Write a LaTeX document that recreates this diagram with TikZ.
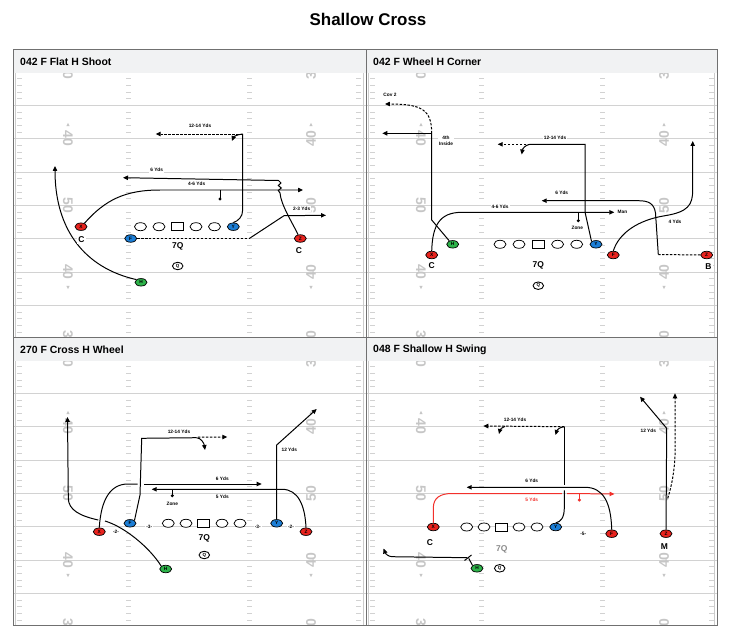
\documentclass[tikz,border=0pt]{standalone}
\usepackage{fontspec}
\setmainfont{Liberation Sans}
\usetikzlibrary{shapes.geometric,arrows.meta}
\definecolor{pred}{HTML}{E8231E}
\definecolor{pblue}{HTML}{1C7ED6}
\definecolor{pgreen}{HTML}{2DB34A}
\definecolor{headfill}{HTML}{F1F2F3}
\definecolor{framecol}{HTML}{707070}
\definecolor{numgray}{HTML}{C6C6C6}
\definecolor{linegray}{HTML}{D2D2D2}
\definecolor{rred}{HTML}{F2302B}
\definecolor{qgray}{HTML}{8A8A8A}
\tikzset{
 fieldline/.style={linegray, line width=0.9pt},
 hashmark/.style={linegray, line width=0.6pt},
 sideline/.style={gray!40, line width=1.8pt},
 fieldnum/.style={numgray, font=\fontsize{14}{14}\selectfont\bfseries, inner sep=0pt},
 paneltitle/.style={anchor=west, font=\fontsize{10.5}{12}\selectfont\bfseries, inner sep=0pt},
 player/.style={ellipse, draw=black, line width=0.7pt, minimum width=12bp, minimum height=7.5bp, inner sep=0pt, font=\fontsize{4.8}{4.8}\selectfont\bfseries},
 lineman/.style={ellipse, draw=black, fill=white, line width=0.75pt, minimum width=12bp, minimum height=8bp, inner sep=0pt},
 cbox/.style={rectangle, draw=black, fill=white, line width=0.75pt, minimum width=11.5bp, minimum height=8bp, inner sep=0pt},
 qb/.style={ellipse, draw=black, fill=white, line width=0.9pt, minimum width=10.5bp, minimum height=7.5bp, inner sep=0pt, font=\fontsize{4.5}{4.5}\selectfont\bfseries},
 rline/.style={line width=1pt},
 route/.style={line width=1pt, -{Triangle[length=5pt,width=4.4pt]}},
 dsh/.style={dash pattern=on 2.5pt off 1.5pt},
 lbl/.style={fill=white, inner sep=1pt, font=\fontsize{4.8}{5.8}\selectfont\bfseries},
 posl/.style={fill=white, inner sep=1.2pt, font=\fontsize{8.5}{9}\selectfont\bfseries},
}
\newcommand\fieldpanel[5]{%
\begin{scope}[shift={(#2,#3)}]
 \fill[white] (0,0) rectangle (#4,288);
 \begin{scope}
  \clip (0,24) rectangle (#4,288);
  \foreach \m in {1,...,7} {\draw[fieldline] (0,23+33.3333*\m) -- (#4,23+33.3333*\m);}
  \foreach \k in {1,...,39} {%
   \pgfmathtruncatemacro\rr{mod(\k,5)}%
   \ifnum\rr>0
    \foreach \hx in {4,113,234,343} {\draw[hashmark] (\hx,23+6.66667*\k) -- ++(5,0);}
   \fi}
  \foreach \yy/\tx/\k in {23/30/a,89.667/40/b,156.333/50/c,223/40/d,289.667/30/e} {%
   \node[fieldnum,rotate=-90] (#1L\k) at (55,\yy) {\tx};
   \node[fieldnum,rotate=90] (#1R\k) at (298,\yy) {\tx};}
  \foreach \xx in {55,298} {%
   \fill[numgray] (\xx-1.6,77.2) -- (\xx+1.6,77.2) -- (\xx,73.8) -- cycle;
   \fill[numgray] (\xx-1.6,236.8) -- (\xx+1.6,236.8) -- (\xx,240.2) -- cycle;}
 \end{scope}
 \draw[sideline] (2.5,24) -- (2.5,288);
 \draw[sideline] (#4-2.5,24) -- (#4-2.5,288);
 \fill[headfill] (0,0) rectangle (#4,24);
 \node[paneltitle] (#1title) at (7,12.5) {#5};
 \draw[framecol, line width=0.9pt] (0,0) rectangle (#4,288);
\end{scope}}
\begin{document}
\begin{tikzpicture}[x=1bp,y=-1bp]
\useasboundingbox (0,0) rectangle (736,633);
\fill[white] (0,0) rectangle (736,633);
\node[font=\fontsize{17}{20}\selectfont\bfseries] (title) at (368,19.5) {Shallow Cross};

\fieldpanel{p1}{13}{49}{353}{042 F Flat H Shoot}
\fieldpanel{p2}{366}{49}{351}{042 F Wheel H Corner}
\fieldpanel{p3}{13}{337}{353}{270 F Cross H Wheel}
\fieldpanel{p4}{366}{337}{351}{048 F Shallow H Swing}

% ---------------- Panel 1 ----------------
\node[lineman] (a1) at (140.5,226.7) {};
\node[lineman] (a2) at (159,226.7) {};
\node[cbox] (a3) at (177.5,226.7) {};
\node[lineman] (a4) at (196,226.7) {};
\node[lineman] (a5) at (214.5,226.7) {};
\node[player,fill=pblue] (aY) at (233.3,226.7) {Y};
\node[player,fill=pred] (aX) at (81,226.7) {X};
\node[player,fill=pblue] (aF) at (130.7,238.5) {F};
\node[player,fill=pred] (aZ) at (300.3,238.5) {Z};
\node[posl] (aZc) at (299,251) {C};
\node[posl] (a7q) at (177.7,246.7) {7Q};
\node[qb] (aQ) at (177.7,266) {Q};
\node[player,fill=pgreen] (aH) at (141,282.3) {H};

\draw[route] (aH.150) .. controls (85,268) and (55,230) .. (55,166);
\node[posl] (aXc) at (81.5,239.5) {C};
\draw[route] (aX.45) .. controls (105,200) and (125,190) .. (160,190) -- (303,190);
\draw[rline] (220,190) -- (220,199);
\fill (220,199) circle (1.7);
\draw[route] (aZ.120) .. controls (292,222) and (281,205) .. (280,193) -- (278.3,190.5) -- (281.3,188) -- (278.3,185.5) -- (281,183) -- (278.5,180.5) -- (123,177.7);
\draw[rline] (aY.north) .. controls (238,221) and (242.7,217) .. (242.7,210) -- (242.7,134);
\draw[route,dsh] (242.7,134) -- (155.7,134);
\draw[route] (242.7,134) .. controls (237,134.5) and (233.5,137) .. (232,141);
\draw[rline,dsh] (aF.east) -- (249.3,238.5);
\draw[route] (249.3,238.5) -- (284,215.7) -- (326,215.3);
\node[lbl] (al1) at (200,126) {12-14 Yds};
\node[lbl] (al2) at (156.7,170) {6 Yds};
\node[lbl] (al3) at (196.7,184) {4-6 Yds};
\node[lbl] (al4) at (301.7,209) {2-3 Yds};

% ---------------- Panel 2 ----------------
\node[lineman] (b1) at (500,244.3) {};
\node[lineman] (b2) at (519,244.3) {};
\node[cbox] (b3) at (538.3,244.3) {};
\node[lineman] (b4) at (557.6,244.3) {};
\node[lineman] (b5) at (576.7,244.3) {};
\node[player,fill=pblue] (bY) at (596,244.3) {Y};
\node[player,fill=pgreen] (bH) at (452.7,244.3) {H};
\node[player,fill=pred] (bX) at (431.7,255) {X};
\node[posl] (bXc) at (431.7,266) {C};
\node[player,fill=pred] (bF) at (613.3,255) {F};
\node[player,fill=pred] (bZ) at (706.7,255) {Z};
\node[posl] (bZc) at (708.3,267) {B};
\node[posl] (b7q) at (538.3,265.5) {7Q};
\node[qb] (bQ) at (538.3,285.7) {Q};

\draw[rline] (bH.135) -- (431.7,220) -- (431.7,133.3);
\draw[route] (431.7,133.3) -- (382.3,133.3);
\draw[route,dsh] (431.7,133.3) .. controls (431.7,110) and (422,104) .. (385,104);
\draw[route] (bX.north) .. controls (432.5,226) and (439,212.3) .. (462,212.3) -- (614.3,212.3);
\draw[rline] (578.3,212.3) -- (578.3,220.7);
\fill (578.3,220.7) circle (1.7);
\draw[rline] (bY.north west) -- (585,212) -- (585,144.3) -- (530,144.3);
\draw[route,dsh] (530,144.3) -- (497.7,144.3);
\draw[route] (530,144.3) .. controls (525,145) and (522.5,149) .. (521.7,154.5);
\draw[rline,dsh] (bZ.west) -- (658.3,254.5);
\draw[route] (658.3,254.5) -- (655.5,213) .. controls (654,203) and (648,200.7) .. (638,200.7) -- (541.7,200.7);
\draw[route] (bF.north) .. controls (619,233) and (638,220) .. (665,215.7) .. controls (688,212) and (692.7,205) .. (692.7,190) -- (692.7,141);
\node[lbl] (bl1) at (390,95) {Cov 2};
\node[lbl,align=center] (bl2) at (446,141) {4th\\Inside};
\node[lbl] (bl3) at (555,137.7) {12-14 Yds};
\node[lbl] (bl4) at (561.7,192.7) {6 Yds};
\node[lbl] (bl5) at (500,207) {4-6 Yds};
\node[lbl,anchor=west] (bl6) at (616.5,212.3) {Man};
\node[lbl] (bl7) at (577.3,227.7) {Zone};
\node[lbl] (bl8) at (675,221.7) {4 Yds};

% ---------------- Panel 3 ----------------
\node[lineman] (c1) at (168.3,523.3) {};
\node[lineman] (c2) at (186,523.3) {};
\node[cbox] (c3) at (203.5,523.3) {};
\node[lineman] (c4) at (222,523.3) {};
\node[lineman] (c5) at (240,523.3) {};
\node[player,fill=pblue] (cF) at (130,523.3) {F};
\node[player,fill=pblue] (cY) at (276.7,523.3) {Y};
\node[player,fill=pred] (cX) at (99.3,531.7) {X};
\node[player,fill=pred] (cZ) at (306,531.7) {Z};
\node[player,fill=pgreen] (cH) at (165.7,569) {H};
\node[posl] (c7q) at (204.3,538.5) {7Q};
\node[qb] (cQ) at (204.3,555) {Q};
\node[lbl] (cg1) at (116,531.7) {-2-};
\node[lbl] (cg2) at (149.3,526.7) {-3-};
\node[lbl] (cg3) at (257.7,526.7) {-3-};
\node[lbl] (cg4) at (291,526.7) {-2-};

\draw[rline] (cH.north west) .. controls (150,548) and (125,527) .. (105,521);
\draw[route] (98.3,520) .. controls (80,516) and (68.3,510) .. (68.3,498) -- (67.5,417);
\draw[rline] (cX.north) .. controls (101,500) and (110,484) .. (128,484) -- (137.5,484);
\draw[route] (144,484) -- (261.7,484);
\draw[rline] (cF.north east) -- (140,495) -- (141.7,438.3) -- (196.5,437.7);
\draw[route] (196.5,437.7) .. controls (201,438) and (204,443) .. (205,450);
\draw[route,dsh] (198,437.2) -- (227.3,437);
\draw[route] (cY.north) -- (276.7,445) -- (316.7,409);
\draw[route] (cZ.north) .. controls (305,505) and (298,489.3) .. (282,489.3) -- (151.7,489.3);
\draw[rline] (172.3,489.3) -- (172.3,495.7);
\fill (172.3,495.7) circle (1.7);
\node[lbl] (cl1) at (179,431.7) {12-14 Yds};
\node[lbl] (cl2) at (222.3,479) {6 Yds};
\node[lbl] (cl3) at (222.3,496.7) {5 Yds};
\node[lbl] (cl4) at (289.3,449.3) {12 Yds};
\node[lbl] (cl5) at (172.3,503.5) {Zone};

% ---------------- Panel 4 ----------------
\node[lineman] (d1) at (466.7,527) {};
\node[lineman] (d2) at (484,527) {};
\node[cbox] (d3) at (501.3,527) {};
\node[lineman] (d4) at (519,527) {};
\node[lineman] (d5) at (537,527) {};
\node[player,fill=pred] (dX) at (433.3,527) {X};
\node[posl] (dXc) at (430,542.5) {C};
\node[player,fill=pblue] (dY) at (555.7,527) {Y};
\node[player,fill=pred] (dF) at (611.7,533.7) {F};
\node[lbl] (dg) at (583.3,534.3) {-5-};
\node[player,fill=pred] (dZ) at (666,533.7) {Z};
\node[posl] (dZc) at (664.3,546.5) {M};
\node[player,fill=pgreen] (dH) at (477,568.3) {H};
\node[qb] (dQ) at (499.7,568.3) {Q};
\node[posl,text=qgray] (d7q) at (501.7,549) {7Q};

\draw[rline,rred] (dX.north) -- (433.3,508) .. controls (433.3,498) and (440,493.5) .. (452,493.5) -- (561.8,493.5);
\draw[route,rred] (567,493.5) -- (614.5,494);
\draw[rline,rred] (579.3,493.7) -- (579.3,500);
\fill[rred] (579.3,500) circle (1.7);
\draw[route] (dF.north) .. controls (611,502) and (603,487.3) .. (585,487.3) -- (466.7,487.3);
\draw[rline] (dY.north) .. controls (561,522) and (564.3,517) .. (564.3,508) -- (564.3,490.3);
\draw[rline] (564.3,484.5) -- (564.3,426.7);
\draw[route,dsh] (564.3,426.7) -- (483.3,426);
\draw[route] (564.3,426.7) .. controls (560,427) and (557,430) .. (555.5,435);
\draw[route] (505,426.3) .. controls (502,427) and (500,430) .. (499,434);
\draw[route] (dZ.north) -- (666.7,428.3) -- (640,396.7);
\draw[route,dsh] (667.7,498.3) .. controls (672,485) and (674.5,470) .. (675,455) -- (675,393.3);
\draw[rline] (dH.north west) -- (468.7,558.3);
\draw[rline] (464.5,560.5) -- (471.5,555);
\draw[route] (467,557.7) -- (392,556.7) .. controls (388,556.5) and (385.5,553.5) .. (383.5,548.5);
\node[lbl] (dl1) at (515,420) {12-14 Yds};
\node[lbl] (dl2) at (531.7,481) {6 Yds};
\node[lbl,text=rred] (dl3) at (531.7,500) {5 Yds};
\node[lbl] (dl4) at (648.3,430.7) {12 Yds};
\end{tikzpicture}
\end{document}
